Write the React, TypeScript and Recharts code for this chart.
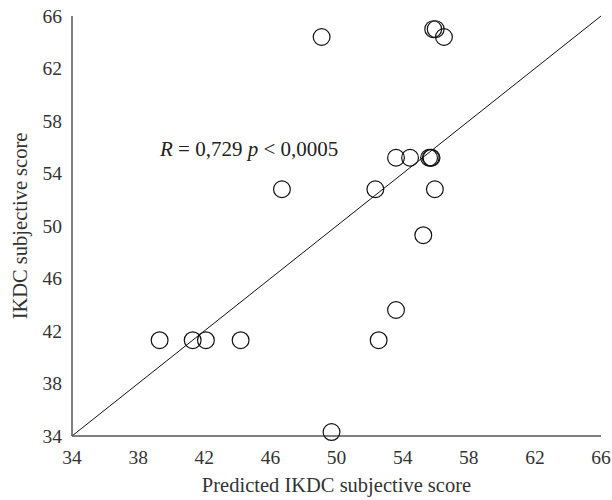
import React from "react";
import {
  ReferenceLine,
  Scatter,
  ScatterChart,
  XAxis,
  YAxis,
  Label,
} from "recharts";

const predicted = [
  49.1, 55.85, 56.0, 56.5, 53.6, 54.45, 55.6, 55.7, 55.75, 55.95, 52.35, 46.7,
  55.25, 53.6, 52.55, 49.7, 39.3, 41.3, 42.1, 44.2,
];
const observed = [
  64.4, 65.0, 65.0, 64.4, 55.2, 55.2, 55.2, 55.2, 55.2, 52.8, 52.8, 52.8, 49.3,
  43.6, 41.3, 34.3, 41.3, 41.3, 41.3, 41.3,
];
const ticks = [34, 38, 42, 46, 50, 54, 58, 62, 66];

const points = predicted.map((x, i) => ({ x, y: observed[i] }));

const font = "'Liberation Serif', 'DejaVu Serif', serif";
const tickStyle = { fontFamily: font, fontSize: 19.5, fill: "#333" };
const labelStyle = { fontFamily: font, fontSize: 20.5, fill: "#333" };

const Ring = (props: any) => (
  <circle
    cx={props.cx}
    cy={props.cy}
    r={8.4}
    fill="none"
    stroke="#111"
    strokeWidth={1.2}
  />
);

export default function App() {
  return (
    <div style={{ position: "absolute", left: 0, top: 0, background: "#fff" }}>
      <ScatterChart
        width={612}
        height={500}
        margin={{ top: 16, right: 11, bottom: 0, left: 0 }}
      >
        <XAxis
          type="number"
          dataKey="x"
          domain={[34, 66]}
          ticks={ticks}
          tickLine={false}
          tickMargin={8}
          height={64}
          stroke="#555"
          strokeWidth={1.5}
          tick={tickStyle}
          interval={0}
        >
          <Label
            value="Predicted IKDC subjective score"
            position="insideBottom"
            offset={8}
            style={labelStyle}
          />
        </XAxis>
        <YAxis
          type="number"
          dataKey="y"
          domain={[34, 66]}
          ticks={ticks}
          tickLine={false}
          tickMargin={4}
          width={72}
          stroke="#555"
          strokeWidth={1.5}
          tick={tickStyle}
          interval={0}
        >
          <Label
            value="IKDC subjective score"
            angle={-90}
            position="insideLeft"
            offset={20}
            style={{ ...labelStyle, textAnchor: "middle" }}
          />
        </YAxis>
        <ReferenceLine
          segment={[
            { x: 34, y: 34 },
            { x: 66, y: 66 },
          ]}
          stroke="#111"
          strokeWidth={1}
        />
        <Scatter data={points} shape={Ring} isAnimationActive={false} />
        <text x={160} y={156} fontFamily={font} fontSize={21} fill="#222">
          <tspan fontStyle="italic">R</tspan>
          <tspan> = 0,729 </tspan>
          <tspan fontStyle="italic">p</tspan>
          <tspan> &lt; 0,0005</tspan>
        </text>
      </ScatterChart>
    </div>
  );
}
